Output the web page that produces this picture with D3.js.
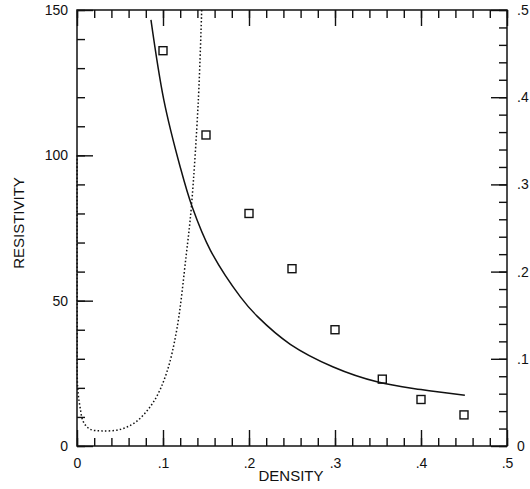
<!DOCTYPE html>
<html>
<head>
<meta charset="utf-8">
<script src="https://cdn.jsdelivr.net/npm/d3@7"></script>
<style>
  html, body { margin: 0; padding: 0; background: #fff; }
  svg { display: block; }
  text { font-family: "Liberation Sans", Arial, sans-serif; fill: #111; }
</style>
</head>
<body>
<svg id="chart" width="530" height="489"></svg>
<script>
// ---- data ----
const densityPoints = [0.1, 0.15, 0.2, 0.25, 0.3, 0.355, 0.4, 0.45];
const resistivityPoints = [136, 107, 80, 61, 40, 23, 16, 10.7];

// solid curve (resistivity units)
const solidX = [0.086, 0.101, 0.120, 0.134, 0.155, 0.190, 0.210, 0.248, 0.298, 0.350, 0.400, 0.451];
const solidY = [146.6, 119.0, 96.0, 82.2, 67.4, 51.3, 44.5, 35.0, 27.2, 22.0, 19.4, 17.5];

// dotted curve (resistivity units)
const dottedX = [0.0001, 0.0003, 0.0008, 0.0035, 0.0073, 0.015, 0.029, 0.05, 0.069, 0.089, 0.104, 0.116, 0.127, 0.133, 0.141, 0.145];
const dottedY = [100, 40, 20, 13.5, 8.4, 5.8, 5.2, 5.7, 8.4, 15.2, 25, 40, 65.7, 82.3, 118.5, 150];

const xTicks = [0, 0.1, 0.2, 0.3, 0.4, 0.5];
const xTickLabels = ["0", ".1", ".2", ".3", ".4", ".5"];
const yTicks = [0, 50, 100, 150];
const yTickLabels = ["0", "50", "100", "150"];
const yRTicks = [0, 0.1, 0.2, 0.3, 0.4, 0.5];
const yRTickLabels = ["0", ".1", ".2", ".3", ".4", ".5"];
const xTitle = "DENSITY";
const yTitle = "RESISTIVITY";

// ---- drawing ----
const svg = d3.select("#chart");
const L = 77, R = 507, T = 10, B = 446;
const x = d3.scaleLinear().domain([0, 0.5]).range([L, R]);
const y = d3.scaleLinear().domain([0, 150]).range([B, T]);
const yR = d3.scaleLinear().domain([0, 0.5]).range([B, T]);

svg.append("rect").attr("width", 530).attr("height", 489).attr("fill", "#fff");

const minorX = d3.range(0, 0.5001, 0.02);
const minorY = d3.range(0, 150.01, 10);
const minorYR = d3.range(0, 0.5001, 0.02);

function styleAxis(g) {
  g.select(".domain").remove();
  g.selectAll("line").attr("stroke", "#111").attr("stroke-width", 1.4);
  g.selectAll("text").attr("font-size", 14).attr("fill", "#111")
    .style("font-family", "'Liberation Sans', Arial, sans-serif");
}

// bottom
svg.append("g").attr("transform", `translate(0,${B})`)
  .call(d3.axisBottom(x).tickValues(minorX).tickSize(-8).tickFormat(""))
  .call(styleAxis);
svg.append("g").attr("transform", `translate(0,${B})`)
  .call(d3.axisBottom(x).tickValues(xTicks).tickSize(-16).tickPadding(12)
    .tickFormat((d, i) => xTickLabels[i]))
  .call(styleAxis);
// top
svg.append("g").attr("transform", `translate(0,${T})`)
  .call(d3.axisTop(x).tickValues(minorX).tickSize(-8).tickFormat(""))
  .call(styleAxis);
svg.append("g").attr("transform", `translate(0,${T})`)
  .call(d3.axisTop(x).tickValues(xTicks).tickSize(-16).tickFormat(""))
  .call(styleAxis);
// left
svg.append("g").attr("transform", `translate(${L},0)`)
  .call(d3.axisLeft(y).tickValues(minorY).tickSize(-8).tickFormat(""))
  .call(styleAxis);
svg.append("g").attr("transform", `translate(${L},0)`)
  .call(d3.axisLeft(y).tickValues(yTicks).tickSize(-16).tickPadding(9)
    .tickFormat((d, i) => yTickLabels[i]))
  .call(styleAxis);
// right
svg.append("g").attr("transform", `translate(${R},0)`)
  .call(d3.axisRight(yR).tickValues(minorYR).tickSize(-8).tickFormat(""))
  .call(styleAxis);
svg.append("g").attr("transform", `translate(${R},0)`)
  .call(d3.axisRight(yR).tickValues(yRTicks).tickSize(-16).tickPadding(10)
    .tickFormat((d, i) => yRTickLabels[i]))
  .call(styleAxis);

// frame
svg.append("rect").attr("x", L).attr("y", T).attr("width", R - L).attr("height", B - T)
  .attr("fill", "none").attr("stroke", "#111").attr("stroke-width", 1.5);

// curves
const line = d3.line().x(d => x(d[0])).y(d => y(d[1])).curve(d3.curveCatmullRom.alpha(0.5));
svg.append("path").datum(solidX.map((v, i) => [v, solidY[i]]))
  .attr("d", line).attr("fill", "none").attr("stroke", "#111").attr("stroke-width", 1.5);
svg.append("path").datum(dottedX.map((v, i) => [v, dottedY[i]]))
  .attr("d", line).attr("fill", "none").attr("stroke", "#111").attr("stroke-width", 1.5)
  .attr("stroke-dasharray", "1.5,2.2");

// squares
svg.append("g").selectAll("rect").data(densityPoints.map((v, i) => [v, resistivityPoints[i]]))
  .join("rect")
  .attr("x", d => x(d[0]) - 4).attr("y", d => y(d[1]) - 4)
  .attr("width", 8).attr("height", 8)
  .attr("fill", "none").attr("stroke", "#111").attr("stroke-width", 1.4);

// titles
svg.append("text").attr("x", 291).attr("y", 481).attr("text-anchor", "middle")
  .attr("font-size", 15).text(xTitle);
svg.append("text").attr("transform", "translate(24,223) rotate(-90)")
  .attr("text-anchor", "middle").attr("font-size", 15).text(yTitle);
</script>
</body>
</html>
